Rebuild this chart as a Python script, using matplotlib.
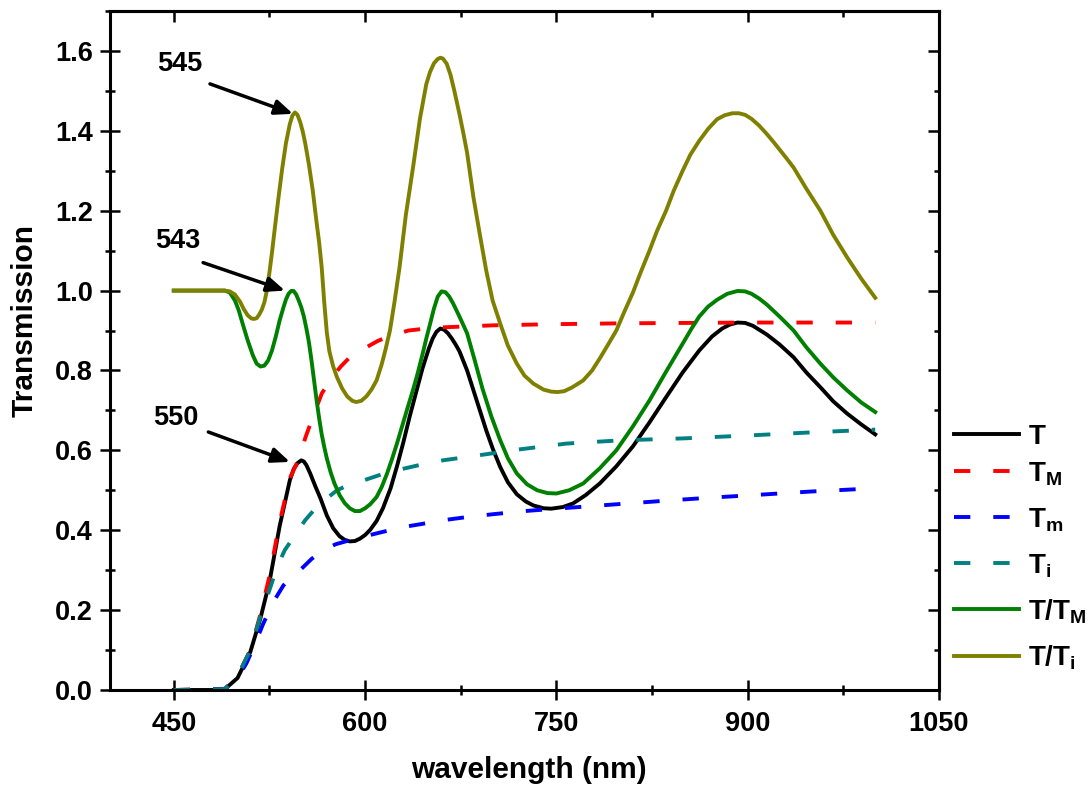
import matplotlib
matplotlib.use("Agg")
import matplotlib.pyplot as plt
from matplotlib.lines import Line2D
from matplotlib.ticker import MultipleLocator, FormatStrFormatter

# ---------------- data ----------------
wl_T = [450, 480, 490, 500, 510, 518, 525, 533, 541, 544, 547, 550, 552, 554, 557, 561, 565,
        570, 575, 580, 584, 588, 592, 596, 600, 604, 609, 614, 620, 625, 630, 635, 640, 645,
        650, 653, 656, 659, 662, 665, 668, 671, 674, 680, 685, 690, 695, 700, 706, 712, 719,
        726, 732, 740, 746, 755, 763, 773, 784, 797, 810, 823, 836, 849, 862, 872, 880, 886,
        892, 898, 904, 910, 915, 925, 936, 946, 957, 967, 978, 989, 1000]
T = [0.0, 0.0, 0.002, 0.03, 0.095, 0.18, 0.27, 0.41, 0.525, 0.553, 0.568, 0.575, 0.572, 0.563,
     0.542, 0.51, 0.48, 0.437, 0.405, 0.385, 0.376, 0.372, 0.373, 0.379, 0.388, 0.401, 0.423,
     0.455, 0.505, 0.56, 0.62, 0.685, 0.745, 0.805, 0.855, 0.88, 0.897, 0.905, 0.902, 0.893,
     0.88, 0.865, 0.848, 0.80, 0.75, 0.70, 0.65, 0.605, 0.558, 0.52, 0.49, 0.472, 0.462, 0.455,
     0.454, 0.458, 0.467, 0.488, 0.517, 0.56, 0.61, 0.67, 0.733, 0.795, 0.85, 0.885, 0.905,
     0.915, 0.92, 0.919, 0.912, 0.90, 0.89, 0.865, 0.833, 0.795, 0.758, 0.723, 0.692, 0.665,
     0.64]

wl_TM = [450, 490, 500, 510, 518, 525, 533, 541, 548, 553, 559, 566, 574, 581, 588, 595, 601,
         610, 620, 634, 648, 661, 700, 750, 800, 900, 1000]
T_M = [0.0, 0.003, 0.035, 0.10, 0.19, 0.285, 0.42, 0.53, 0.578, 0.63, 0.683, 0.742, 0.783,
       0.81, 0.833, 0.848, 0.858, 0.874, 0.887, 0.90, 0.905, 0.908, 0.913, 0.916, 0.918,
       0.92, 0.92]

wl_Tm = [450, 490, 500, 507, 513, 520, 528, 536, 542, 549, 558, 567, 577, 588, 600, 614, 630,
         645, 661, 680, 700, 725, 750, 780, 810, 840, 873, 902, 950, 1000]
T_m = [0.0, 0.002, 0.03, 0.067, 0.11, 0.165, 0.22, 0.262, 0.282, 0.30, 0.328, 0.35, 0.365,
       0.375, 0.385, 0.396, 0.408, 0.416, 0.425, 0.433, 0.44, 0.448, 0.454, 0.461, 0.468,
       0.475, 0.482, 0.4875, 0.497, 0.505]

wl_Ti = [450, 490, 500, 510, 518, 525, 531, 537, 544, 553, 562, 570, 578, 588, 599, 614, 630,
         645, 661, 690, 720, 758, 800, 850, 902, 950, 1000]
T_i = [0.0, 0.002, 0.035, 0.10, 0.185, 0.25, 0.308, 0.35, 0.383, 0.425, 0.458, 0.48, 0.50,
       0.515, 0.525, 0.541, 0.554, 0.565, 0.575, 0.588, 0.602, 0.617, 0.625, 0.63, 0.6375,
       0.645, 0.652]

wl_TTM = [450, 490, 494, 498, 501, 504, 508, 512, 515, 518, 521, 524, 527, 530, 533, 536, 538,
          540, 542, 544, 546, 548, 550, 552, 554, 556, 558, 560, 562, 564, 566, 568, 570, 573,
          576, 580, 584, 588, 592, 596, 600, 604, 609, 613, 617, 621, 625, 629, 633, 637, 641,
          645, 648, 651, 654, 657, 660, 663, 666, 669, 674, 680, 686, 692, 699, 706, 712, 719,
          727, 735, 743, 750, 760, 771, 784, 797, 810, 823, 836, 849, 856, 862, 869, 876, 884,
          892, 898, 903, 909, 915, 925, 936, 946, 957, 967, 978, 989, 1000]
T_TM = [1.0, 1.0, 0.995, 0.975, 0.95, 0.917, 0.875, 0.838, 0.817, 0.81, 0.812, 0.825, 0.85,
        0.885, 0.925, 0.958, 0.978, 0.992, 0.999, 0.999, 0.99, 0.975, 0.958, 0.935, 0.905,
        0.87, 0.825, 0.775, 0.725, 0.68, 0.64, 0.608, 0.58, 0.545, 0.517, 0.488, 0.468, 0.455,
        0.448, 0.448, 0.455, 0.465, 0.483, 0.508, 0.54, 0.577, 0.617, 0.66, 0.703, 0.745,
        0.79, 0.84, 0.88, 0.917, 0.955, 0.985, 0.998, 0.996, 0.985, 0.968, 0.935, 0.893,
        0.825, 0.755, 0.685, 0.625, 0.58, 0.542, 0.515, 0.50, 0.493, 0.492, 0.50, 0.517,
        0.555, 0.60, 0.66, 0.725, 0.797, 0.867, 0.905, 0.935, 0.96, 0.977, 0.992, 0.999,
        0.998, 0.992, 0.98, 0.965, 0.935, 0.90, 0.858, 0.817, 0.783, 0.75, 0.72, 0.696]

wl_TTi = [450, 490, 494, 498, 502, 505, 508, 511, 513, 515, 517, 519, 521, 523, 525, 527, 529,
          532, 535, 538, 541, 543, 545, 547, 549, 551, 553, 556, 559, 562, 564, 566, 568, 570,
          572, 575, 578, 582, 586, 590, 593, 597, 601, 605, 609, 613, 616, 619.5, 623, 627, 632,
          638, 643, 648, 651, 654, 657, 659, 661, 664, 667, 670, 674, 677, 680, 685, 690, 695,
          700, 706, 712, 719, 725, 732, 740, 746, 751, 756, 762, 771, 778, 784, 790, 797, 803,
          810, 816, 823, 829, 836, 842, 849, 855, 862, 869, 876, 882, 888, 893, 898, 903, 909,
          915, 920, 925, 930, 936, 946, 957, 967, 978, 989, 1000]
T_Ti = [1.0, 1.0, 0.998, 0.99, 0.972, 0.953, 0.938, 0.93, 0.929, 0.931, 0.94, 0.952, 0.97,
        1.0, 1.045, 1.095, 1.15, 1.23, 1.305, 1.37, 1.417, 1.438, 1.446, 1.44, 1.423, 1.40,
        1.37, 1.315, 1.25, 1.17, 1.12, 1.058, 0.97, 0.895, 0.848, 0.81, 0.783, 0.755, 0.735,
        0.724, 0.721, 0.724, 0.735, 0.752, 0.775, 0.815, 0.852, 0.90, 0.97, 1.058, 1.19, 1.317,
        1.43, 1.517, 1.548, 1.569, 1.58, 1.583, 1.581, 1.568, 1.54, 1.50, 1.442, 1.395, 1.345,
        1.233, 1.14, 1.05, 0.975, 0.917, 0.862, 0.817, 0.787, 0.767, 0.752, 0.747, 0.746,
        0.748, 0.757, 0.775, 0.80, 0.83, 0.862, 0.90, 0.945, 0.995, 1.045, 1.10, 1.15, 1.20,
        1.25, 1.30, 1.34, 1.375, 1.405, 1.429, 1.439, 1.444, 1.444, 1.44, 1.43, 1.413, 1.392,
        1.373, 1.353, 1.333, 1.308, 1.255, 1.20, 1.14, 1.083, 1.03, 0.982]

labels = [r'$\mathbf{T}$', r'$\mathbf{T_M}$', r'$\mathbf{T_m}$', r'$\mathbf{T_i}$',
          r'$\mathbf{T/T_M}$', r'$\mathbf{T/T_i}$']
colors = ['#000000', '#FF0000', '#0000FF', '#008080', '#008000', '#808000']

annot_text = ['545', '543', '550']
annot_text_pos = [(454.9, 1.5675), (453.3, 1.125), (451.7, 0.68)]
annot_tail = [(478.4, 1.5175), (473.0, 1.07), (477.1, 0.646)]
annot_head = [(543.5, 1.4425), (537.2, 1.0), (541.1, 0.571)]

# ---------------- styling ----------------
plt.rcParams['font.family'] = ['Liberation Sans', 'DejaVu Sans']
plt.rcParams['font.weight'] = 'bold'
plt.rcParams['mathtext.fontset'] = 'custom'
plt.rcParams['mathtext.bf'] = 'Liberation Sans:bold'
plt.rcParams['mathtext.rm'] = 'Liberation Sans:bold'
plt.rcParams['mathtext.it'] = 'Liberation Sans:bold'

W, H = 1088, 789
fig = plt.figure(figsize=(W / 100, H / 100), dpi=100)
ax = fig.add_axes([110 / W, 1 - 690 / H, 829 / W, 679 / H])

lw = 2.8
dash = (4.2, 5.9)
series = [(wl_T, T, '-'), (wl_TM, T_M, '--'), (wl_Tm, T_m, '--'), (wl_Ti, T_i, '--'),
          (wl_TTM, T_TM, '-'), (wl_TTi, T_Ti, '-')]
lines = []
for (x, y, ls), lab, c in zip(series, labels, colors):
    if ls == '--':
        ln, = ax.plot(x, y, color=c, lw=lw, dashes=dash, label=lab)
    else:
        ln, = ax.plot(x, y, color=c, lw=lw, label=lab, solid_joinstyle='round')
    lines.append(ln)

ax.set_xlim(400, 1050)
ax.set_ylim(0, 1.7)
ax.xaxis.set_major_locator(MultipleLocator(150))
ax.xaxis.set_minor_locator(MultipleLocator(75))
ax.yaxis.set_major_locator(MultipleLocator(0.2))
ax.yaxis.set_minor_locator(MultipleLocator(0.1))
ax.yaxis.set_major_formatter(FormatStrFormatter('%.1f'))

for s in ax.spines.values():
    s.set_linewidth(2.2)
ax.tick_params(which='major', direction='inout', length=14.4, width=1.8,
               labelsize=19.5, pad=5)
ax.tick_params(which='minor', direction='inout', length=7.2, width=1.8)
ax.tick_params(axis='x', which='major', pad=8)

secx = ax.secondary_xaxis('top')
secx.xaxis.set_major_locator(MultipleLocator(150))
secx.xaxis.set_minor_locator(MultipleLocator(75))
secx.tick_params(which='major', direction='in', length=7.7, width=1.8, labeltop=False)
secx.tick_params(which='minor', direction='in', length=4.5, width=1.8)
secx.spines['top'].set_linewidth(2.2)
secy = ax.secondary_yaxis('right')
secy.yaxis.set_major_locator(MultipleLocator(0.2))
secy.yaxis.set_minor_locator(MultipleLocator(0.1))
secy.tick_params(which='major', direction='in', length=7.7, width=1.8, labelright=False)
secy.tick_params(which='minor', direction='in', length=3.8, width=1.8)
secy.spines['right'].set_linewidth(2.2)

for lab in ax.get_xticklabels() + ax.get_yticklabels():
    lab.set_fontweight('bold')

ax.set_xlabel('wavelength (nm)', fontsize=21.5, fontweight='bold')
ax.set_ylabel('Transmission', fontsize=21.5, fontweight='bold')
ax.xaxis.set_label_coords((529 - 110) / 829, (690 - 756) / 679)
ax.yaxis.set_label_coords((39 - 110) / 829, (690 - 320) / 679)

for t, tp, tail, head in zip(annot_text, annot_text_pos, annot_tail, annot_head):
    ax.text(tp[0], tp[1], t, fontsize=19.5, fontweight='bold', ha='center', va='center')
    ax.annotate('', xy=head, xytext=tail,
                arrowprops=dict(arrowstyle='-|>,head_length=0.6,head_width=0.25',
                                color='black', lw=2.5, mutation_scale=18,
                                shrinkA=0, shrinkB=0))

# ---------------- legend (outside, right), one row per series ----------------
row_y = [434, 471, 517, 563, 609, 656]
for ln, lab, yy in zip(lines, labels, row_y):
    h = Line2D([954 / W, 1019 / W], [1 - yy / H, 1 - yy / H], transform=fig.transFigure,
               color=ln.get_color(), lw=lw, linestyle=ln.get_linestyle())
    if ln.get_linestyle() == '--':
        h.set_dashes(dash)
    fig.add_artist(h)
    fig.text(1028 / W, 1 - (yy + 10) / H, lab, fontsize=20, fontweight='bold',
             ha='left', va='baseline')

fig.savefig('out.png', dpi=100)
